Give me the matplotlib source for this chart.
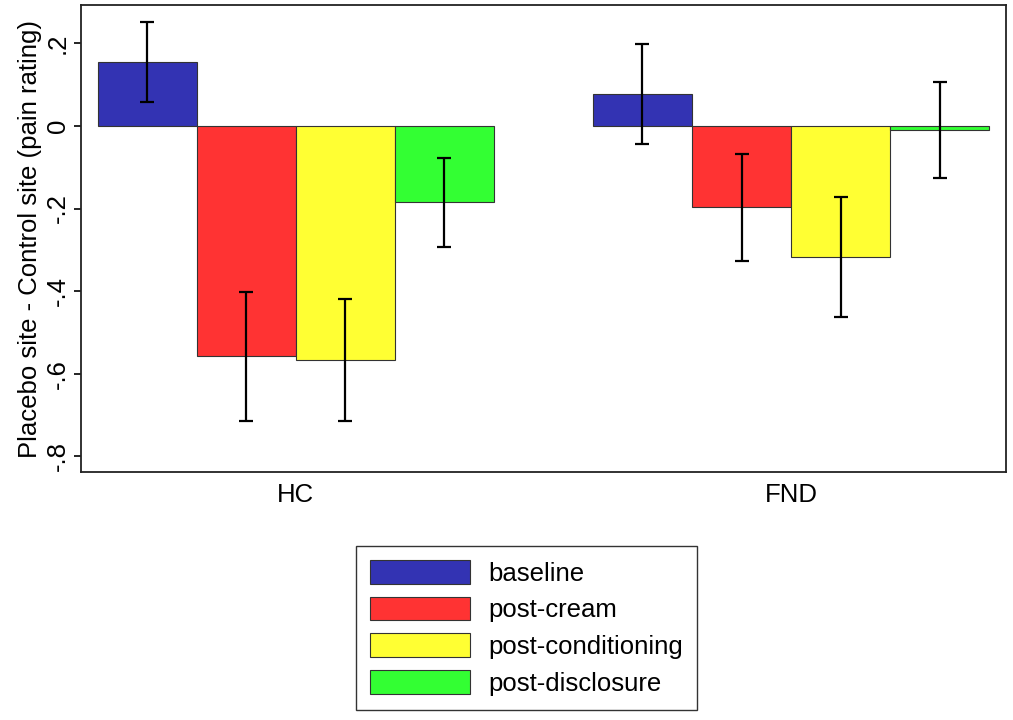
import matplotlib
matplotlib.use("Agg")
import matplotlib.pyplot as plt
import numpy as np

plt.rcParams['font.family'] = ['Liberation Sans', 'DejaVu Sans']

groups = ["HC", "FND"]
conditions = ["baseline", "post-cream", "post-conditioning", "post-disclosure"]
colors = ["#3333B3", "#FF3333", "#FFFF33", "#33FF33"]
means = {
    "HC":  [0.155, -0.558, -0.566, -0.185],
    "FND": [0.078, -0.197, -0.317, -0.009],
}
errs = {
    "HC":  [0.097, 0.157, 0.148, 0.108],
    "FND": [0.121, 0.130, 0.146, 0.116],
}
yticks = [0.2, 0, -0.2, -0.4, -0.6, -0.8]
ytick_labels = [".2", "0", "-.2", "-.4", "-.6", "-.8"]

FS = 18.5
fig = plt.figure(figsize=(10.13, 7.2), dpi=100)
ax = fig.add_axes([0.08, 0.344, 0.913, 0.649])

n = len(conditions)
handles = []
for gi, g in enumerate(groups):
    base = gi * (n + 1)
    for ci in range(n):
        x = base + ci + 0.5
        b = ax.bar(x, means[g][ci], width=1.0, color=colors[ci],
                   edgecolor="#333333", linewidth=0.8, zorder=2)
        ax.errorbar(x, means[g][ci], yerr=errs[g][ci], fmt="none",
                    ecolor="black", elinewidth=1.6, capsize=4.8,
                    capthick=1.6, zorder=3)
        if gi == 0:
            handles.append(b)

ax.set_xlim(-0.17, 2 * n + 1 + 0.17)
ax.set_ylim(-0.839, 0.293)
ax.set_yticks(yticks)
ax.set_yticklabels(ytick_labels, rotation=90, va="center", fontsize=FS)
ax.set_xticks([n / 2, (n + 1) + n / 2])
ax.set_xticklabels(groups, fontsize=FS)
ax.tick_params(axis="x", length=0, pad=8)
ax.tick_params(axis="y", length=5, width=1.2, direction="out", pad=3)
ax.set_ylabel("Placebo site - Control site (pain rating)", fontsize=FS, labelpad=3)
for s in ax.spines.values():
    s.set_linewidth(1.3)
    s.set_color("#222222")

leg = fig.legend(handles=handles, labels=conditions, loc="center",
                 bbox_to_anchor=(0.52, 0.128), fontsize=FS, frameon=True,
                 fancybox=False, edgecolor="black", handlelength=3.9,
                 handleheight=1.05, labelspacing=0.43, handletextpad=0.7,
                 borderpad=0.55)
leg.get_frame().set_linewidth(1.0)

fig.savefig("out.png", dpi=100)
